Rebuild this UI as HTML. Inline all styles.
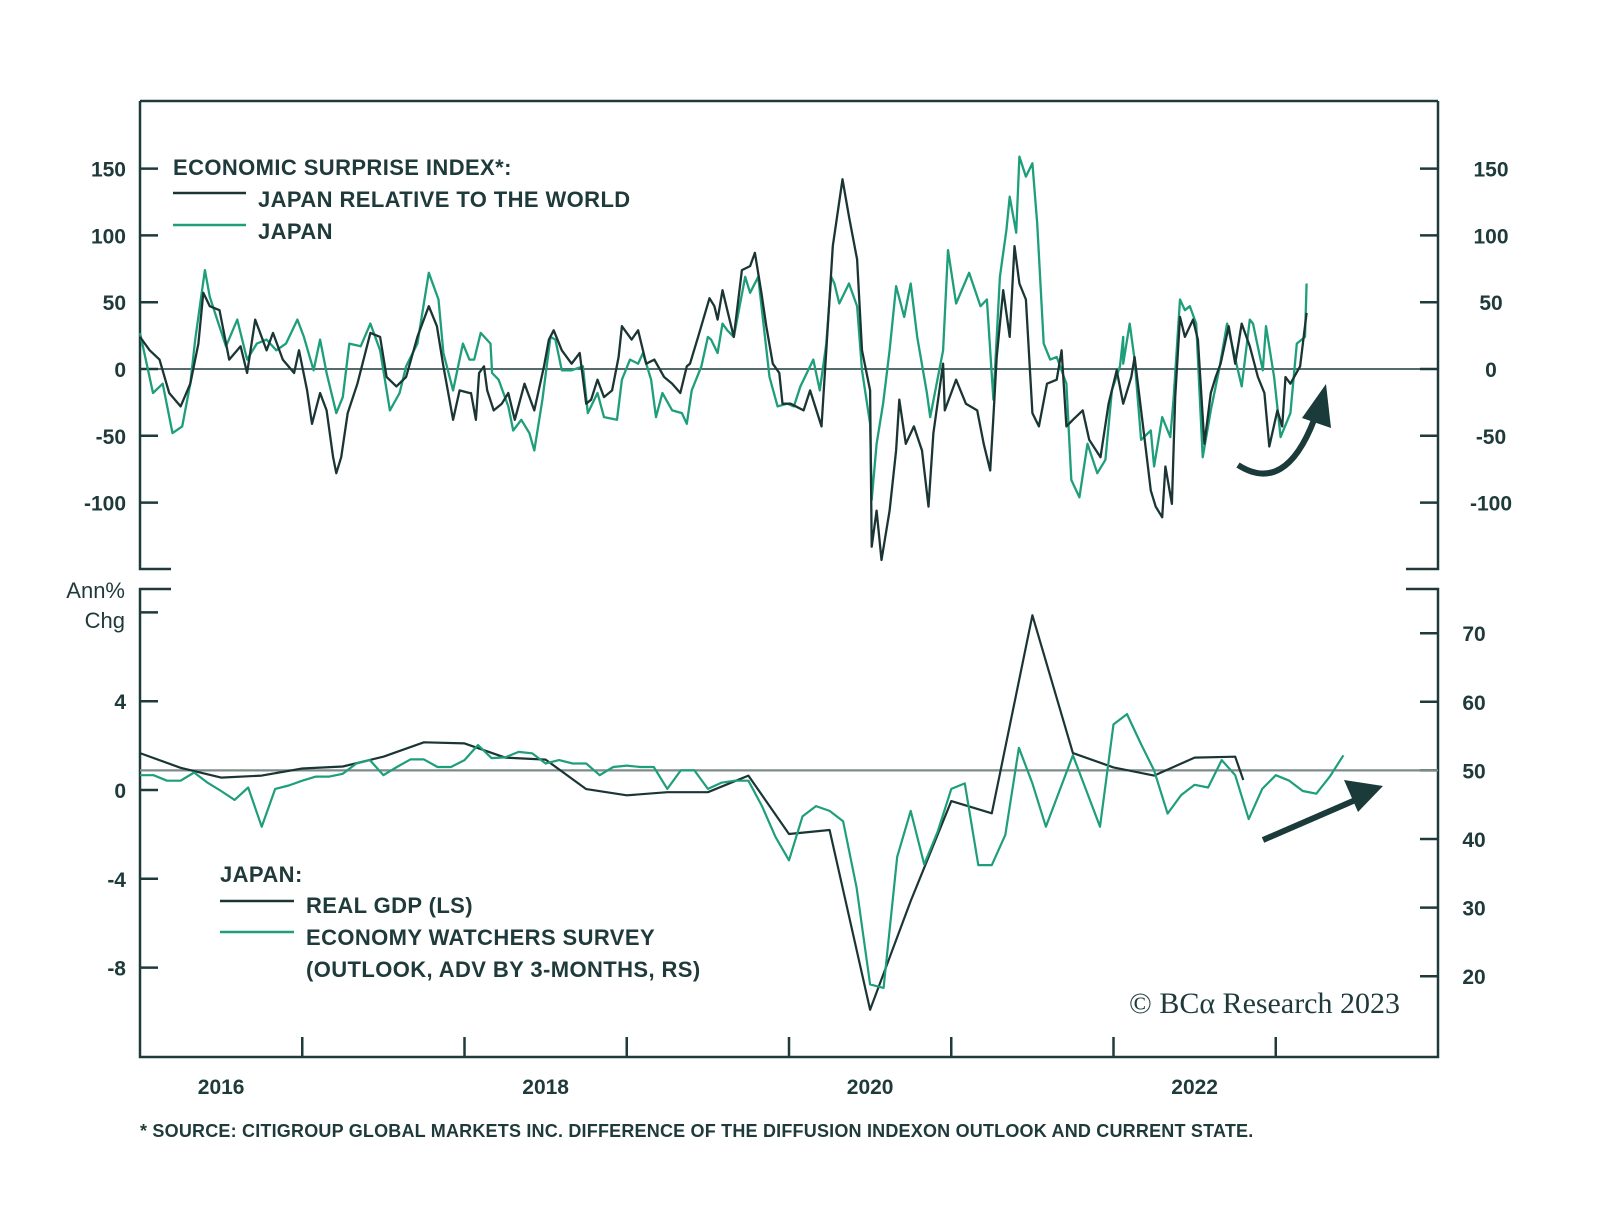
<!DOCTYPE html>
<html><head><meta charset="utf-8">
<style>
html,body{margin:0;padding:0;background:#fff;}
svg{display:block;font-family:"Liberation Sans",sans-serif;}
</style></head>
<body>
<svg id="chart" width="1600" height="1228" viewBox="0 0 1600 1228" xmlns="http://www.w3.org/2000/svg">
<g id="frame" stroke="#1f3a3a" stroke-width="2.5" fill="none">
  <path d="M140,101 L1438,101"/>
  <path d="M171,569 L140,569 L140,101"/>
  <path d="M1406,569 L1438,569 L1438,101"/>
  <path d="M171,589 L140,589 L140,1057 L1438,1057 L1438,589 L1406,589"/>
</g>
<g id="top-axes"></g>
<g id="bot-axes"></g>
<g id="xaxis"></g>
<g id="series"></g>
<g fill="#1f3a3a" font-size="22" font-weight="bold" style="letter-spacing:0.4px">
  <text x="173" y="175">ECONOMIC SURPRISE INDEX*:</text>
  <line x1="173" y1="193" x2="246" y2="193" stroke="#1b3535" stroke-width="2.5"/>
  <text x="258" y="207">JAPAN RELATIVE TO THE WORLD</text>
  <line x1="173" y1="225" x2="246" y2="225" stroke="#1e9e7a" stroke-width="2.5"/>
  <text x="258" y="239">JAPAN</text>
</g>
<g fill="#1f3a3a" font-size="22" font-weight="bold" style="letter-spacing:0.4px">
  <text x="220" y="882">JAPAN:</text>
  <line x1="220" y1="901" x2="294" y2="901" stroke="#1b3535" stroke-width="2.5"/>
  <text x="306" y="913">REAL GDP (LS)</text>
  <line x1="220" y1="932" x2="294" y2="932" stroke="#1e9e7a" stroke-width="2.5"/>
  <text x="306" y="945">ECONOMY WATCHERS SURVEY</text>
  <text x="306" y="977">(OUTLOOK, ADV BY 3-MONTHS, RS)</text>
</g>
<text x="125" y="598" text-anchor="end" fill="#1f3a3a" font-size="22">Ann%</text>
<text x="125" y="628" text-anchor="end" fill="#1f3a3a" font-size="22">Chg</text>
<text x="1400" y="1013" text-anchor="end" fill="#1f3a3a" font-size="30" font-family="Liberation Serif, serif">© BCα Research 2023</text>
<text x="140" y="1137" fill="#1f3a3a" font-size="18" font-weight="bold" style="letter-spacing:0.2px">* SOURCE: CITIGROUP GLOBAL MARKETS INC. DIFFERENCE OF THE DIFFUSION INDEXON OUTLOOK AND CURRENT STATE.</text>
<g>
  <path d="M1238,465 Q1285,495 1314,420" stroke="#1b3a3a" stroke-width="6" fill="none"/>
  <polygon points="1326,384 1331,428 1302,418" fill="#1b3a3a"/>
  <line x1="1263" y1="840" x2="1360" y2="798" stroke="#1b3a3a" stroke-width="6"/>
  <polygon points="1383,786 1344,780 1358,812" fill="#1b3a3a"/>
</g>
</svg>
<script>
// ---- data ----
const relDates = [2016.00,2016.06,2016.12,2016.18,2016.25,2016.31,2016.36,2016.39,2016.43,2016.49,2016.55,2016.62,2016.66,2016.71,2016.78,2016.82,2016.88,2016.95,2016.98,2017.03,2017.06,2017.11,2017.15,2017.19,2017.21,2017.24,2017.28,2017.34,2017.42,2017.48,2017.52,2017.58,2017.64,2017.71,2017.78,2017.83,2017.87,2017.93,2017.97,2018.03,
2018.04,2018.07,2018.09,2018.12,2018.14,2018.18,2018.23,2018.27,2018.31,2018.37,2018.43,2018.49,2018.52,2018.55,2018.60,2018.66,2018.71,2018.75,2018.78,2018.82,2018.86,2018.91,2018.95,2018.97,2019.03,2019.07,2019.12,2019.17,2019.23,2019.28,2019.33,2019.37,2019.39,2019.44,2019.51,2019.54,2019.56,2019.59,2019.62,2019.66,2019.71,2019.76,2019.79,2019.83,2019.86,2019.90,2019.94,2019.96,2020.01,
2020.09,2020.13,2020.20,2020.23,2020.27,2020.33,2020.37,2020.42,2020.45,2020.50,2020.51,2020.54,2020.57,2020.62,2020.66,2020.68,2020.72,2020.77,2020.82,2020.86,2020.89,2020.95,2020.96,2021.03,2021.09,2021.16,2021.20,2021.24,2021.26,2021.28,2021.32,2021.36,2021.39,2021.42,2021.46,2021.50,2021.54,2021.59,2021.65,2021.68,2021.71,2021.75,2021.81,2021.85,2021.92,2021.97,2022.01,
2022.02,2022.06,2022.11,2022.13,2022.16,2022.20,2022.23,2022.26,2022.30,2022.32,2022.36,2022.38,2022.41,2022.44,2022.49,2022.52,2022.56,2022.60,2022.63,2022.66,2022.71,2022.75,2022.79,2022.84,2022.89,2022.93,2022.96,2023.01,2023.04,2023.06,2023.09,2023.15,2023.19];
const relValues = [24,14,7,-18,-28,-11,19,57,47,44,7,17,-3,37,14,27,7,-3,14,-16,-41,-18,-31,-66,-78,-66,-33,-11,27,24,-6,-13,-6,24,47,32,2,-38,-16,-18,
-18,-38,-3,2,-16,-31,-26,-18,-38,-11,-31,2,22,29,14,4,12,-26,-23,-8,-21,-16,9,32,22,29,4,7,-6,-11,-18,2,4,24,53,47,37,59,44,24,74,77,87,57,32,4,-3,-26,-26,
-31,-16,-43,14,92,142,114,82,14,-16,-133,-106,-143,-106,-61,-23,-56,-43,-61,-103,-48,4,-31,-8,-26,-31,-56,-76,-36,9,59,24,92,64,52,-33,-43,-11,-8,14,-43,-38,-31,-53,-66,-26,-6,-1,
-26,-6,9,-21,-61,-91,-103,-111,-73,-101,-21,39,24,37,22,-56,-18,-6,4,32,4,34,17,-6,-18,-58,-31,-43,-6,-11,2,42,27];

const japDates = [2016.00,2016.08,2016.14,2016.20,2016.26,2016.31,2016.34,2016.40,2016.43,2016.47,2016.53,2016.60,2016.66,2016.72,2016.78,2016.84,2016.90,2016.97,2017.01,2017.07,2017.11,2017.15,2017.21,2017.25,2017.29,2017.36,2017.42,2017.48,2017.54,2017.60,2017.64,2017.71,2017.78,2017.84,2017.87,2017.93,2017.99,2018.03,
2018.06,2018.10,2018.16,2018.17,2018.21,2018.27,2018.30,2018.35,2018.40,2018.43,2018.48,2018.53,2018.56,2018.60,2018.66,2018.73,2018.76,2018.82,2018.86,2018.94,2018.97,2019.02,2019.07,2019.10,2019.15,2019.18,2019.22,2019.28,2019.34,2019.37,2019.40,2019.46,2019.50,2019.52,2019.56,2019.59,2019.62,2019.66,2019.73,2019.76,2019.81,2019.84,2019.88,2019.93,2019.99,2020.03,
2020.07,2020.15,2020.19,2020.23,2020.26,2020.28,2020.31,2020.37,2020.42,2020.45,2020.50,2020.51,2020.54,2020.58,2020.62,2020.66,2020.71,2020.75,2020.79,2020.85,2020.87,2020.95,2020.98,2021.03,2021.11,2021.18,2021.22,2021.26,2021.30,2021.34,2021.36,2021.40,2021.42,2021.46,2021.50,2021.53,2021.57,2021.61,2021.65,2021.71,2021.74,2021.79,2021.84,2021.90,2021.95,2021.99,2022.04,
2022.06,2022.06,2022.10,2022.13,2022.17,2022.23,2022.25,2022.30,2022.35,2022.37,2022.41,2022.44,2022.47,2022.51,2022.55,2022.60,2022.65,2022.70,2022.79,2022.84,2022.86,2022.92,2022.94,2022.99,2023.03,2023.09,2023.13,2023.18,2023.19];
const japValues = [27,-18,-11,-48,-43,-11,22,74,54,39,17,37,7,19,22,14,19,37,24,-1,22,-3,-33,-21,19,17,34,14,-31,-18,2,19,72,52,12,-16,19,7,
7,27,19,-3,-8,-28,-46,-38,-48,-61,-23,24,22,-1,-1,2,-33,-18,-36,-38,-8,7,4,12,-8,-36,-18,-31,-33,-41,-16,2,24,22,12,34,29,24,69,57,69,37,-6,-28,-26,-28,
-13,7,-16,19,69,64,49,64,47,-1,-41,-98,-56,-26,14,62,39,64,24,-18,-36,14,89,49,72,47,52,-23,69,104,129,102,159,144,154,109,19,7,9,-11,-83,-96,-56,-78,-68,-16,2,24,
4,34,7,-53,-46,-73,-36,-51,-23,52,44,47,34,-66,-31,-1,34,-13,37,34,-1,32,-6,-51,-33,19,24,64,77,54];

const gdpDates = [2016.00,2016.25,2016.50,2016.75,2017.00,2017.25,2017.50,2017.75,2018.00,2018.25,2018.50,2018.75,2019.00,2019.25,2019.50,2019.75,2020.00,2020.25,2020.50,2020.75,2021.00,2021.25,2021.50,2021.75,2022.00,2022.25,2022.50,2022.75,2022.80];
const gdpValues = [1.66,1.0,0.56,0.65,0.97,1.06,1.5,2.15,2.1,1.46,1.37,0.04,-0.24,-0.1,-0.1,0.65,-1.98,-1.8,-9.9,-5.0,-0.5,-1.05,7.87,1.66,1.02,0.65,1.46,1.5,0.45];

const ewsStart = 2016.0; // monthly series
const ewsValues = [49.3,49.3,48.5,48.5,49.7,48.2,47.0,45.7,47.5,41.8,47.3,47.8,48.5,49.1,49.1,49.5,51.0,51.5,49.3,50.5,51.6,51.6,50.5,50.5,51.5,53.7,51.8,51.9,52.7,52.5,51.0,51.5,51.0,51.0,49.3,50.5,50.7,50.5,50.5,47.3,50.0,50.0,47.3,48.2,48.5,48.5,44.8,40.3,36.9,43.3,44.8,44.1,42.6,32.9,18.8,18.3,37.4,44.1,36.3,41.1,47.3,48.1,36.2,36.2,40.6,53.3,48.1,41.8,47.0,52.2,47.0,41.8,56.7,58.2,54.0,50.0,43.7,46.4,47.9,47.5,51.5,49.3,42.9,47.3,49.3,48.5,47.0,46.6,49.1,52.2];

const topTicks = [150,100,50,0,-50,-100];
const botLeftTicks = [8,4,0,-4,-8];
const botLeftLabels = ["","4","0","-4","-8"];
const botRightTicks = [70,60,50,40,30,20];
const yearLabels = ["2016","2018","2020","2022"];
const yearLabelPos = [2016.5,2018.5,2020.5,2022.5];
const yearTicks = [2017,2018,2019,2020,2021,2022,2023];

// ---- scales ----
const X0=140, X1=1438, Y0=2016, Y1=2024;
const x = t => X0 + (t-Y0)*(X1-X0)/(Y1-Y0);
const yTop = v => 369 - v*1.336;
const yBL = v => 790 - v*22.2;
const yBR = v => 770.4 - (v-50)*6.86;

const NS="http://www.w3.org/2000/svg";
function mk(tag, attrs, parent){const e=document.createElementNS(NS,tag);for(const k in attrs)e.setAttribute(k,attrs[k]);parent.appendChild(e);return e;}
const C="#1f3a3a";
const ta=document.getElementById('top-axes'), ba=document.getElementById('bot-axes'), xa=document.getElementById('xaxis'), sg=document.getElementById('series');

topTicks.forEach(v=>{
  const y=yTop(v);
  let l=mk('line',{x1:140,x2:158,y1:y,y2:y,stroke:C,'stroke-width':2.5},ta);
  
  
  let r=mk('line',{x1:1420,x2:1438,y1:y,y2:y,stroke:C,'stroke-width':2.5},ta);
  
  
  let t=mk('text',{x:126,y:y+8,'text-anchor':'end',fill:C,'font-size':21,'font-weight':'bold'},ta);t.textContent=v;
  
  
  let t2=mk('text',{x:1491,y:y+8,'text-anchor':'middle',fill:C,'font-size':21,'font-weight':'bold'},ta);t2.textContent=v;
  
  
});
let z=mk('line',{x1:140,x2:1438,y1:yTop(0),y2:yTop(0),stroke:C,'stroke-width':1.6},ta);



botLeftTicks.forEach((v,i)=>{
  const y=yBL(v);
  let l=mk('line',{x1:140,x2:158,y1:y,y2:y,stroke:C,'stroke-width':2.5},ba);
  
  
  if(botLeftLabels[i]){let t=mk('text',{x:126,y:y+8,'text-anchor':'end',fill:C,'font-size':21,'font-weight':'bold'},ba);t.textContent=botLeftLabels[i];
  
  }
});
botRightTicks.forEach(v=>{
  const y=yBR(v);
  let l=mk('line',{x1:1420,x2:1438,y1:y,y2:y,stroke:C,'stroke-width':2.5},ba);
  
  
  let t=mk('text',{x:1474,y:y+8,'text-anchor':'middle',fill:C,'font-size':21,'font-weight':'bold'},ba);t.textContent=v;
  
  
});
let g50=mk('line',{x1:140,x2:1438,y1:yBR(50),y2:yBR(50),stroke:'#7d8c8a','stroke-width':2.2},ba);



yearTicks.forEach(t=>{
  let l=mk('line',{x1:x(t),x2:x(t),y1:1037,y2:1057,stroke:C,'stroke-width':2.5},xa);
  
  
});
yearLabels.forEach((s,i)=>{
  let t=mk('text',{x:x(yearLabelPos[i]),y:1094,'text-anchor':'middle',fill:C,'font-size':21,'font-weight':'bold'},xa);t.textContent=s;
  
  
});

function poly(dates,vals,ys,color,name,w){
  const pts=dates.map((d,i)=>x(d).toFixed(1)+','+ys(vals[i]).toFixed(1)).join(' ');
  const p=mk('polyline',{points:pts,fill:'none',stroke:color,'stroke-width':w,'stroke-linejoin':'round'},sg);
  
  
}
poly(japDates,japValues,yTop,'#1e9e7a','japan-surprise-line',2.3);
poly(relDates,relValues,yTop,'#1b3535','japan-relative-surprise-line',2.3);
poly(gdpDates,gdpValues,yBL,'#1b3535','real-gdp-line',2.2);
poly(ewsValues.map((v,i)=>ewsStart+i/12),ewsValues,yBR,'#1e9e7a','economy-watchers-line',2.2);
</script>
</body></html>
